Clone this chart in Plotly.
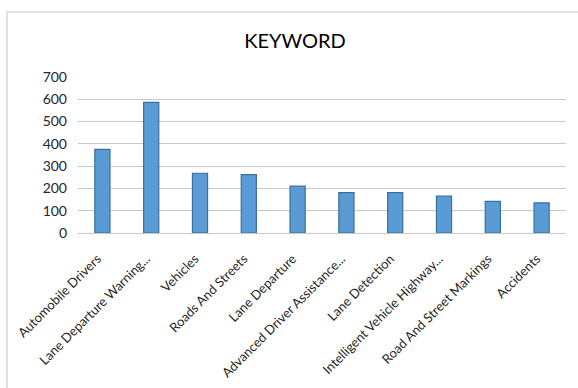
import plotly.graph_objects as go

categories = [
    "Automobile Drivers",
    "Lane Departure Warning...",
    "Vehicles",
    "Roads And Streets",
    "Lane Departure",
    "Advanced Driver Assistance...",
    "Lane Detection",
    "Intelligent Vehicle Highway...",
    "Road And Street Markings",
    "Accidents",
]
values = [375, 586, 268, 262, 211, 181, 181, 166, 142, 135]
y_ticks = [0, 100, 200, 300, 400, 500, 600, 700]

FONT = "Lato, 'Open Sans', sans-serif"

fig = go.Figure(
    go.Bar(
        x=categories,
        y=values,
        marker=dict(color="#5B9BD5", line=dict(color="#3A6E9E", width=1.2)),
    )
)

W, H = 578, 388
L, R, T, B = 78, 12, 77, 155
pw = W - L - R
ph = H - T - B

fig.update_layout(
    width=W,
    height=H,
    margin=dict(l=L, r=R, t=T, b=B),
    paper_bgcolor="white",
    plot_bgcolor="white",
    bargap=0.69,
    showlegend=False,
    font=dict(family=FONT, color="#404040", size=14),
    title=dict(
        text="KEYWORD",
        font=dict(family=FONT, size=20, color="#000000"),
        x=295 / W,
        xref="container",
        xanchor="center",
        y=1 - 41 / H,
        yref="container",
        yanchor="middle",
    ),
    xaxis=dict(
        tickangle=-45,
        automargin=False,
        showgrid=False,
        showline=True,
        linecolor="#C8C8C8",
        linewidth=1.3,
        ticks="",
        ticklabelstandoff=12,
        ticklabelshift=-5,
        tickfont=dict(family=FONT, size=13, color="#262626"),
    ),
    yaxis=dict(
        range=[0, 700],
        automargin=False,
        tickvals=y_ticks,
        showgrid=True,
        gridcolor="#C8C8C8",
        gridwidth=1.3,
        zeroline=False,
        showline=False,
        ticks="",
        ticklabelstandoff=10,
        tickfont=dict(family=FONT, size=14, color="#262626"),
    ),
    shapes=[
        dict(
            type="rect",
            xref="paper",
            yref="paper",
            x0=(7 - L) / pw,
            x1=(W + 5 - L) / pw,
            y0=(H - T - B - (H + 5 - T)) / ph,
            y1=(T + ph - 12) / ph,
            line=dict(color="#D9D9D9", width=1.5),
            fillcolor="rgba(0,0,0,0)",
            layer="below",
        )
    ],
)

fig.write_html("out.html")
